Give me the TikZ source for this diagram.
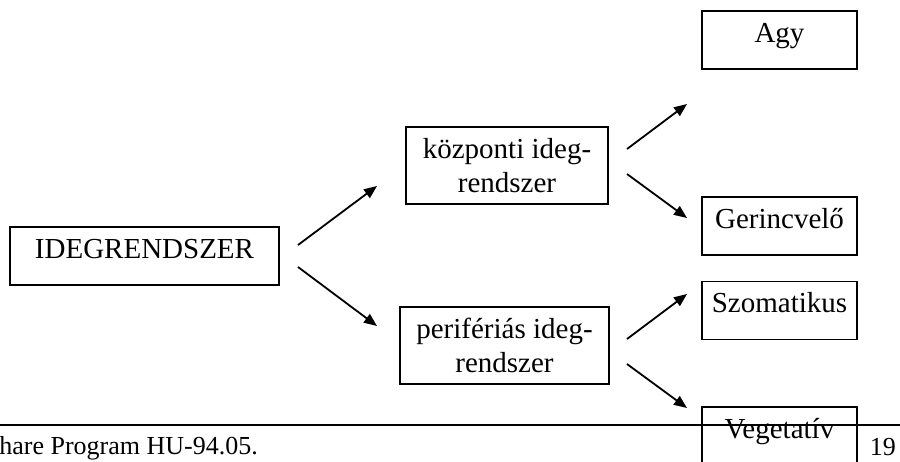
\documentclass[tikz,border=0pt]{standalone}
\usepackage{fontspec}
\setmainfont{Liberation Serif}
\usetikzlibrary{arrows.meta}
\tikzset{
  box/.style={draw, line width=1.8pt, inner xsep=0pt, inner ysep=0pt,
    font=\fontsize{29}{34}\selectfont, text height=31pt, text depth=27pt},
  box2/.style={box, text depth=46pt},
  arr/.style={line width=1.8pt, -{Triangle[length=13pt,width=10.5pt]}},
  foot/.style={inner sep=0pt, font=\fontsize{26}{30}\selectfont}
}
\begin{document}
\begin{tikzpicture}[x=1pt,y=-1pt]
\useasboundingbox (0,0) rectangle (900,461);
\node[box, minimum width=269pt] (root) at (144.5,256) {IDEGRENDSZER};
\node[box2, minimum width=202pt] (kozp) at (507,165.5)
  {\begin{tabular}[t]{@{}c@{}}központi ideg-\\rendszer\end{tabular}};
\node[box2, minimum width=209pt] (peri) at (504.5,345.5)
  {\begin{tabular}[t]{@{}c@{}}perifériás ideg-\\rendszer\end{tabular}};
\node[box, minimum width=155pt] (agy) at (779.5,40) {Agy};
\node[box, minimum width=155pt] (ger) at (779.5,226) {Gerincvelő};
\node[box, minimum width=155pt] (szom) at (779.5,310.5) {Szomatikus};
\node[box, minimum width=155pt] (veg) at (779.5,436) {Vegetatív};
% arrow end points
\coordinate (r1) at (298,245); \coordinate (k0) at (377,186);
\coordinate (r2) at (298,267); \coordinate (p0) at (377,326);
\coordinate (k1) at (627,149); \coordinate (a0) at (687,104);
\coordinate (k2) at (627,174); \coordinate (g0) at (687,218);
\coordinate (p1) at (627,339); \coordinate (s0) at (687,294);
\coordinate (p2) at (627,364); \coordinate (v0) at (687,408);
\draw[arr] (r1) -- (k0);
\draw[arr] (r2) -- (p0);
\draw[arr] (k1) -- (a0);
\draw[arr] (k2) -- (g0);
\draw[arr] (p1) -- (s0);
\draw[arr] (p2) -- (v0);
% footer
\coordinate (fl) at (0,425); \coordinate (fr) at (900,425);
\draw[line width=2.5pt] (fl) -- (fr);
\node[foot, anchor=base east] (ftext) at (258,454) {Phare Program HU-94.05.};
\node[foot, anchor=base east] (fpage) at (896,455) {19};
\end{tikzpicture}
\end{document}
